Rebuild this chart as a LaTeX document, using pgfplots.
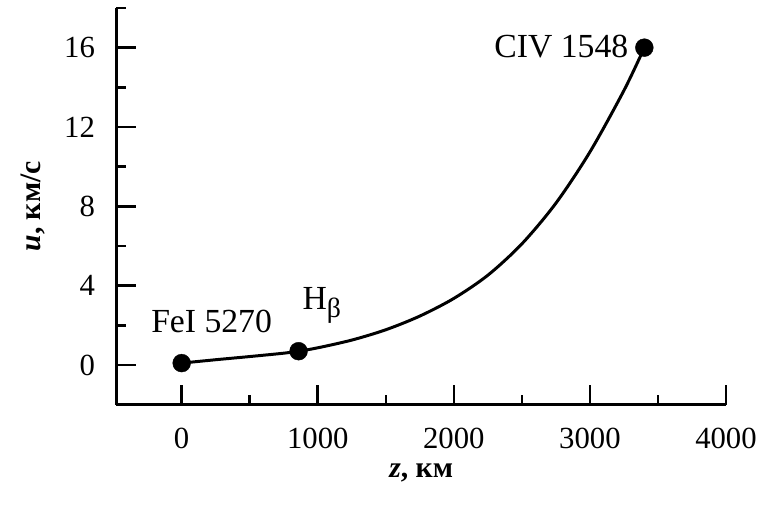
\documentclass[border=0pt]{standalone}
\usepackage{fontspec}
\setmainfont{Liberation Serif}
\usepackage{pgfplots}
\pgfplotsset{compat=1.18}
\begin{document}
\begin{tikzpicture}[x=1bp,y=1bp]
\path (-117bp,-104bp) rectangle (643bp,407bp);
\begin{axis}[
  at={(0,0)}, anchor=south west,
  scale only axis, width=613bp, height=399bp,
  xmin=-480, xmax=4000, ymin=-2, ymax=18,
  axis x line=bottom, axis y line=left,
  axis line style={-, line width=2.6bp},
  every tick/.style={line width=2.6bp, black},
  tick align=inside,
  major tick length=20bp, minor tick length=10bp,
  xtick={0,1000,2000,3000,4000},
  minor xtick={500,1500,2500,3500},
  ytick={0,4,8,12,16},
  minor ytick={2,6,10,14,18},
  /pgf/number format/assume math mode=true,
  /pgf/number format/1000 sep={},
  ticklabel style={font=\fontsize{31}{34}\selectfont},
  xticklabel style={yshift=-20bp},
  yticklabel style={xshift=-18bp},
  xlabel={\textbf{\textit{z}, км}},
  ylabel={\textbf{\textit{u}, км/с}},
  label style={font=\fontsize{30}{32}\selectfont},
  xlabel style={yshift=-8bp},
  ylabel style={yshift=12bp},
  clip=false,
]
\addplot[black, line width=3bp, smooth, tension=0.5] coordinates {
(0,0.1) (250,0.27) (500,0.43) (750,0.6) (859,0.7) (1000,0.87) (1250,1.26)
(1500,1.78) (1750,2.47) (2000,3.36) (2250,4.53) (2500,6.11) (2750,8.16)
(3000,10.74) (3250,13.84) (3400,16)
};
\addplot[only marks, mark=*, mark size=9bp, black] coordinates {
(0,0.1) (859,0.7) (3400,16)
};
\node[font=\fontsize{34}{36}\selectfont] at (axis cs:220,2.2) {FeI 5270};
\node[font=\fontsize{34}{36}\selectfont] at (axis cs:1030,3.0) {H\raisebox{-0.25em}{\fontsize{28}{28}\selectfont β}};
\node[font=\fontsize{34}{36}\selectfont] at (axis cs:2790,16.05) {CIV 1548};
\end{axis}
\end{tikzpicture}
\end{document}
